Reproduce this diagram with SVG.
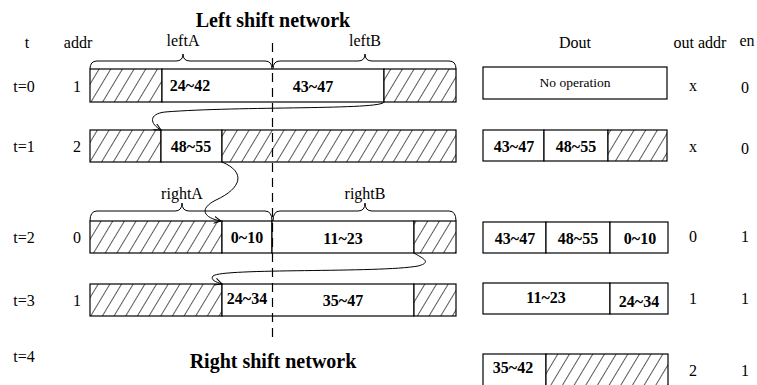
<svg xmlns="http://www.w3.org/2000/svg" width="757" height="385" viewBox="0 0 757 385">
<defs>
<pattern id="hatch" patternUnits="userSpaceOnUse" width="10" height="10" patternTransform="rotate(31)">
<rect width="10" height="10" fill="#fff"/>
<line x1="0" y1="0" x2="0" y2="10" stroke="#000" stroke-width="1.3"/>
</pattern>
<marker id="arr" markerWidth="8" markerHeight="8" refX="7" refY="4" orient="auto" markerUnits="userSpaceOnUse">
<path d="M0,0.5 L7,4 L0,7.5" fill="none" stroke="#000" stroke-width="1"/>
</marker>
</defs>
<style>
text{font-family:"Liberation Serif","Times New Roman",serif;fill:#000}
.h{font-size:16px}
.b{font-size:16px;font-weight:bold;text-anchor:middle}
.t{font-size:20px;font-weight:bold;text-anchor:middle}
.c{text-anchor:middle}
.w{fill:#fff;stroke:#000;stroke-width:1.2}
.x{fill:url(#hatch);stroke:#000;stroke-width:1.2}
.br{fill:none;stroke:#000;stroke-width:1}
.cv{fill:none;stroke:#000;stroke-width:1;marker-end:url(#arr)}
</style>
<rect width="757" height="385" fill="#fff"/>

<g id="titles">
<text class="t" x="273" y="27">Left shift network</text>
<text class="t" x="273" y="368">Right shift network</text>
</g>

<g id="headers" class="h">
<text x="27" y="48" class="c">t</text>
<text x="78" y="48" class="c">addr</text>
<text x="575" y="48" class="c">Dout</text>
<text x="700" y="48" class="c">out addr</text>
<text x="747" y="46" class="c">en</text>
<text x="183" y="46" class="c">leftA</text>
<text x="365" y="46" class="c">leftB</text>
<text x="182" y="199" class="c">rightA</text>
<text x="365" y="199" class="c">rightB</text>
</g>

<g id="rowlabels" class="h">
<text x="24" y="92" class="c">t=0</text><text x="77" y="92" class="c">1</text>
<text x="24" y="152" class="c">t=1</text><text x="77" y="152" class="c">2</text>
<text x="24" y="243" class="c">t=2</text><text x="77" y="243" class="c">0</text>
<text x="24" y="306" class="c">t=3</text><text x="77" y="306" class="c">1</text>
<text x="24" y="362" class="c">t=4</text>
</g>

<g id="outcols" class="h">
<text x="693" y="91" class="c">x</text><text x="745" y="93" class="c">0</text>
<text x="693" y="152" class="c">x</text><text x="745" y="154" class="c">0</text>
<text x="693" y="242" class="c">0</text><text x="745" y="242" class="c">1</text>
<text x="693" y="304" class="c">1</text><text x="745" y="304" class="c">1</text>
<text x="693" y="376" class="c">2</text><text x="745" y="376" class="c">1</text>
</g>

<g id="braces">
<path class="br" d="M90,69 Q90,61 97,61 L176,61 Q183,61 183,54 Q183,61 190,61 L265,61 Q272,61 272,69"/>
<path class="br" d="M273,69 Q273,61 280,61 L358,61 Q365,61 365,54 Q365,61 372,61 L449,61 Q456,61 456,69"/>
<path class="br" d="M90,221 Q90,211 97,211 L175,211 Q182,211 182,203 Q182,211 189,211 L265,211 Q272,211 272,221"/>
<path class="br" d="M273,221 Q273,211 280,211 L358,211 Q365,211 365,203 Q365,211 372,211 L449,211 Q456,211 456,221"/>
</g>

<g id="row0">
<rect class="x" x="90" y="69" width="72" height="33"/>
<rect class="w" x="162" y="69" width="222" height="33"/>
<rect class="x" x="384" y="69" width="72" height="33"/>
<text class="b" x="190" y="91">24~42</text>
<text class="b" x="313" y="92">43~47</text>
</g>
<g id="row1">
<rect class="x" x="90" y="130" width="71" height="32"/>
<rect class="w" x="161" y="130" width="61" height="32"/>
<rect class="x" x="222" y="130" width="234" height="32"/>
<text class="b" x="191" y="152">48~55</text>
</g>
<g id="row2">
<rect class="x" x="90" y="221" width="132" height="32"/>
<rect class="w" x="222" y="221" width="50" height="32"/>
<rect class="w" x="272" y="221" width="142" height="32"/>
<rect class="x" x="414" y="221" width="42" height="32"/>
<text class="b" x="247" y="243">0~10</text>
<text class="b" x="343" y="244">11~23</text>
</g>
<g id="row3">
<rect class="x" x="90" y="284" width="132" height="32"/>
<rect class="w" x="222" y="284" width="192" height="32"/>
<rect class="x" x="414" y="284" width="42" height="32"/>
<text class="b" x="247" y="304">24~34</text>
<text class="b" x="343" y="306">35~47</text>
</g>

<g id="dout0">
<rect class="w" x="483" y="67" width="184" height="32"/>
<text x="575" y="87" class="c" style="font-size:13.5px">No operation</text>
</g>
<g id="dout1">
<rect class="w" x="483" y="130" width="61" height="31"/>
<rect class="w" x="544" y="130" width="64" height="31"/>
<rect class="x" x="608" y="130" width="59" height="31"/>
<text class="b" x="514" y="152">43~47</text>
<text class="b" x="576" y="152">48~55</text>
</g>
<g id="dout2">
<rect class="w" x="483" y="222" width="63" height="31"/>
<rect class="w" x="546" y="222" width="64" height="31"/>
<rect class="w" x="610" y="222" width="58" height="31"/>
<text class="b" x="515" y="244">43~47</text>
<text class="b" x="578" y="244">48~55</text>
<text class="b" x="640" y="244">0~10</text>
</g>
<g id="dout3">
<rect class="w" x="483" y="283" width="127" height="31"/>
<rect class="w" x="610" y="283" width="58" height="31"/>
<text class="b" x="546" y="303">11~23</text>
<text class="b" x="639" y="307">24~34</text>
</g>
<g id="dout4">
<rect class="w" x="483" y="354" width="63" height="34"/>
<rect class="x" x="546" y="354" width="122" height="34"/>
<text class="b" x="513" y="373">35~42</text>
</g>

<g id="connectors">
<line x1="272.5" y1="43" x2="272.5" y2="343" stroke="#000" stroke-width="1.2" stroke-dasharray="9,6"/>
<path class="cv" d="M384,102 C382,110 240,106 165,112 C148,114 150,124 161,130"/>
<path class="cv" d="M222,162 C246,172 242,188 216,200 C198,209 204,218 221,221"/>
<path class="cv" d="M414,253 C420,257 434,262 418,266 C380,273 222,268 213,276 C210,280 216,282 222,284"/>
</g>
</svg>
